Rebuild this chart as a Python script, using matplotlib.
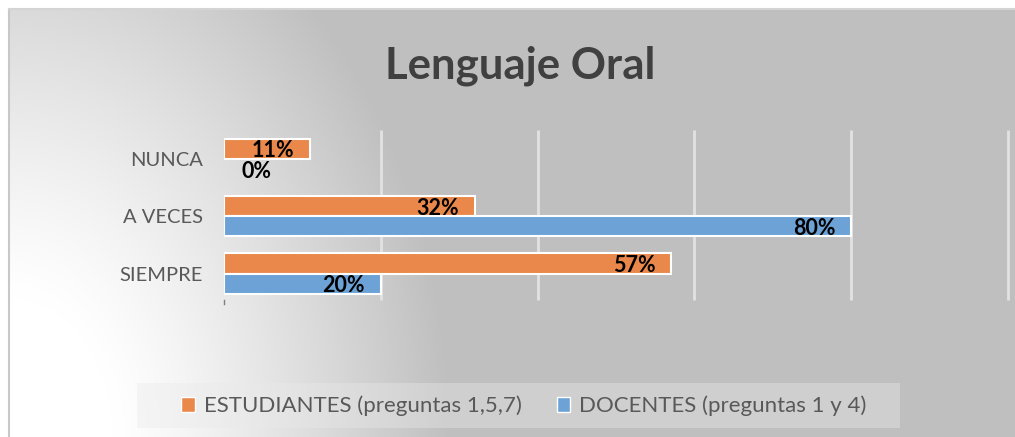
import numpy as np
import matplotlib.pyplot as plt
from matplotlib.patches import Rectangle, Patch

### Data
categories = ["SIEMPRE", "A VECES", "NUNCA"]
estudiantes = [0.57, 0.32, 0.11]
docentes = [0.20, 0.80, 0.00]
series_names = ["ESTUDIANTES (preguntas 1,5,7)", "DOCENTES (preguntas 1 y 4)"]
title = "Lenguaje Oral"

W, H = 1015, 437
plt.rcParams['font.family'] = ['Lato', 'DejaVu Sans']

fig = plt.figure(figsize=(W / 100, H / 100), dpi=100)
fig.patch.set_facecolor("white")

# Background: gradient from a light bottom-left corner to grey.
bg = fig.add_axes([9 / W, 0, 1 - 9 / W, 1 - 9 / H])
bg.set_axis_off()
yy, xx = np.mgrid[0:428, 0:1006]
dx = xx / 520.0
dy = (428 - yy) / 700.0
r = np.sqrt(dx ** 2 + dy ** 2)
f = np.clip((r - 0.2) / 0.65, 0, 1) ** 1.2
val = 255 - 64 * f
img = np.dstack([val, val, val]) / 255.0
bg.imshow(img, aspect="auto", extent=[0, 1, 0, 1], origin="upper")
bg.set_xlim(0, 1)
bg.set_ylim(0, 1)
# frame lines
fig.add_artist(plt.Line2D([9 / W, 9 / W], [0, 1 - 9 / H], color="#c8c8c8", lw=1.5))
fig.add_artist(plt.Line2D([9 / W, 1], [1 - 9 / H, 1 - 9 / H], color="#d4d4d4", lw=1.5))

# Title
fig.text(520 / W, 1 - 66 / H, title, ha="center", va="center", fontsize=31.5,
         fontweight="bold", color="#404040")

# Main axes
ax = fig.add_axes([224 / W, 1 - 300 / H, (1008 - 224) / W, 170 / H])
ax.patch.set_visible(False)
for s in ax.spines.values():
    s.set_visible(False)
ax.set_xlim(0, 1.0)
ax.set_ylim(-0.46, 2.5)

ax.vlines([0.2, 0.4, 0.6, 0.8, 1.0], -0.46, 2.5, colors="#e2e2e2", lw=2, clip_on=False, zorder=0)
ax.plot([0, 0], [-0.46, -0.53], color="#7f7f7f", lw=1, clip_on=False)

y = np.arange(len(categories))
h = 0.35
for vals, off, col in [(estudiantes, h / 2, "#E9884A"), (docentes, -h / 2, "#6CA2D6")]:
    for yi, v in zip(y, vals):
        if v > 0:
            ax.barh(yi + off, v, height=h, color=col, edgecolor="white", lw=1.5, zorder=2)
        lab = f"{v * 100:.0f}%"
        if v > 0.05:
            ax.text(v - 0.02, yi + off - 0.04, lab, ha="right", va="center",
                    fontsize=15.5, fontweight="bold", color="black", zorder=3)
        else:
            ax.text(0.022, yi + off - 0.04, lab, ha="left", va="center",
                    fontsize=15.5, fontweight="bold", color="black", zorder=3)

ax.set_yticks(y)
ax.set_yticklabels(categories, fontsize=14.5, color="#595959")
ax.tick_params(axis="y", length=0, pad=15)
ax.set_xticks([])

# Legend box
fig.add_artist(Rectangle((137 / W, 1 - 428 / H), (900 - 137) / W, 45 / H,
                         transform=fig.transFigure, facecolor="#eaeaea", alpha=0.38,
                         edgecolor="none"))
handles = [Patch(facecolor="#E9884A", edgecolor="white"),
           Patch(facecolor="#6CA2D6", edgecolor="white")]
fig.legend(handles, series_names, loc="center", bbox_to_anchor=(524 / W, 1 - 406 / H),
           ncol=2, frameon=False, fontsize=16, labelcolor="#595959",
           handlelength=0.6, handleheight=0.6, handletextpad=0.4, columnspacing=1.6)

fig.savefig("out.png", dpi=100)
